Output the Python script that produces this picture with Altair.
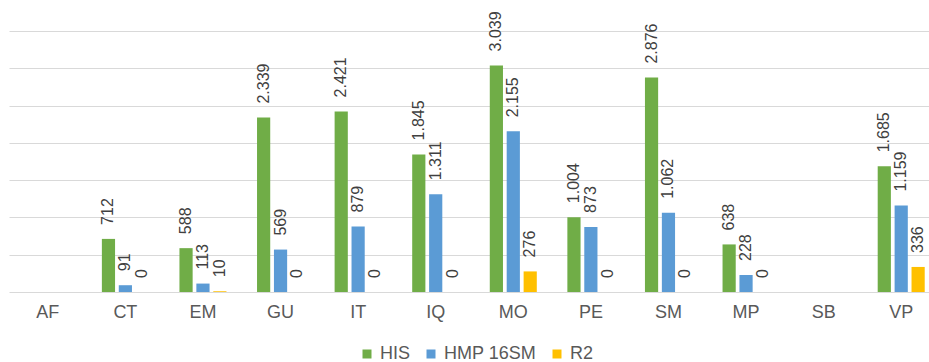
import altair as alt
import pandas as pd

categories = ["AF", "CT", "EM", "GU", "IT", "IQ", "MO", "PE", "SM", "MP", "SB", "VP"]
series = ["HIS", "HMP 16SM", "R2"]
his = [None, 712, 588, 2339, 2421, 1845, 3039, 1004, 2876, 638, None, 1685]
hmp = [None, 91, 113, 569, 879, 1311, 2155, 873, 1062, 228, None, 1159]
r2 = [None, 0, 10, 0, 0, 0, 276, 0, 0, 0, None, 336]
colors = ["#70AD47", "#5B9BD5", "#FFC000"]
grid_values = [0, 500, 1000, 1500, 2000, 2500, 3000, 3500]

rows = []
for s, vals in zip(series, [his, hmp, r2]):
    for c, v in zip(categories, vals):
        if v is None:
            continue
        rows.append({"cat": c, "series": s, "value": v,
                     "label": f"{v:,}".replace(",", ".")})
df = pd.DataFrame(rows)

FONT = "Liberation Sans"

x = alt.X("cat:N", sort=categories,
          scale=alt.Scale(domain=categories, range=[0, 931],
                          paddingInner=0.394, paddingOuter=0.197),
          axis=alt.Axis(title=None, labelAngle=0, domain=False, ticks=False,
                        labelPadding=11, labelFontSize=18, labelColor="#595959",
                        labelFont=FONT, grid=False))
xo = alt.XOffset("series:N", sort=series,
                 scale=alt.Scale(domain=series, paddingInner=0.22, paddingOuter=0))
y = alt.Y("value:Q", scale=alt.Scale(domain=[0, 3500], nice=False),
          axis=alt.Axis(title=None, labels=False, ticks=False, domain=False,
                        values=grid_values, gridColor="#d9d9d9", gridWidth=1.2))

bars = alt.Chart(df).mark_bar().encode(
    x=x, xOffset=xo, y=y,
    color=alt.Color("series:N", sort=series,
                    scale=alt.Scale(domain=series, range=colors),
                    legend=alt.Legend(orient="none", legendX=349, legendY=314,
                                      direction="horizontal", title=None,
                                      symbolType="square", symbolSize=81,
                                      symbolStrokeWidth=0, labelFontSize=18,
                                      labelColor="#595959", labelFont=FONT,
                                      labelOffset=4, columnPadding=11)),
)

text = alt.Chart(df).mark_text(angle=270, align="left", baseline="middle", dx=14,
                               fontSize=16, color="#404040", font=FONT).encode(
    x=x, xOffset=xo, y=y, text="label:N"
)

chart = alt.layer(bars, text).properties(
    width=920, height=261,
    padding={"left": 9, "top": 31, "right": 0, "bottom": 70},
    autosize="none",
).configure_view(stroke=None)

chart.save("out.html", embed_options={"renderer": "svg", "actions": False})
